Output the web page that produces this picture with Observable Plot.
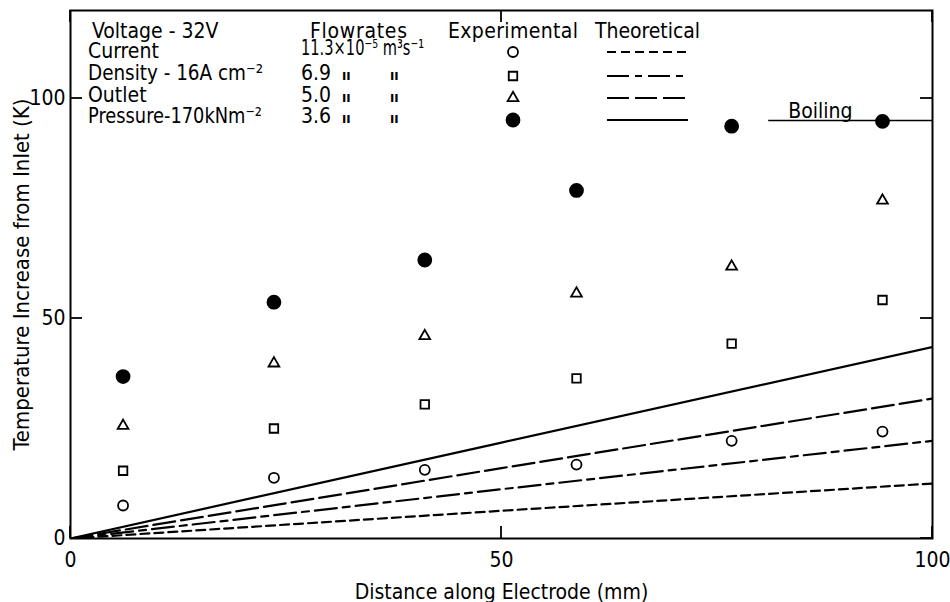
<!DOCTYPE html>
<html><head><meta charset="utf-8">
<script src="https://cdn.jsdelivr.net/npm/d3@7"></script>
<script src="https://cdn.jsdelivr.net/npm/@observablehq/plot@0.6"></script>
<style>
html,body{margin:0;padding:0;background:#fff;}
#wrap{position:relative;width:950px;height:602px;}
#wrap svg{font-family:"DejaVu Sans Condensed","DejaVu Sans",sans-serif;font-stretch:condensed;}
#legend{position:absolute;left:0;top:0;pointer-events:none;}
</style></head><body><div id="wrap"></div>
<script>
// ---- data ----
const distance = [6.1, 23.6, 41.1, 58.7, 76.7, 94.2];           // mm
const flowrates = ["11.3", "6.9", "5.0", "3.6"];               // x10^-5 m3/s
const exp113 = [7.5, 13.8, 15.6, 16.8, 22.2, 24.3];            // K
const exp69  = [15.4, 25.0, 30.5, 36.4, 44.3, 54.2];
const exp50  = [25.6, 39.8, 46.0, 55.7, 61.8, 76.8];
const exp36  = [36.8, 53.7, 63.3, 79.1, 93.7, 94.8];
const theoryX   = [0, 50, 100];
const theory113 = [0, 6.3, 12.5];
const theory69  = [0, 11.2, 22.2];
const theory50  = [0, 16.0, 31.8];
const theory36  = [0, 21.8, 43.5];
const boilingT = 95, boilingFrom = 81, boilingLabelX = 87;
const xTicks = [0, 50, 100];
const yTicks = [0, 50, 100];
const xDomain = [0, 100], yDomain = [0, 120];
const conditionLines = ["Voltage - 32V", "Current", "Density - 16A cm\u207B\u00B2", "Outlet", "Pressure-170kNm\u207B\u00B2"];
const flowLabels = ["11.3\u00D710\u207B\u2075 m\u00B3s\u207B\u00B9", "6.9", "5.0", "3.6"];

// ---- layout & styles ----
const W = 950, H = 602, mL = 70, mR = 18, mT = 10, mB = 64, tick = 12;
const expSeries = [exp113, exp69, exp50, exp36];
const theorySeries = [theory113, theory69, theory50, theory36];
const symbols = [d3.symbolCircle, d3.symbolSquare, d3.symbolTriangle, d3.symbolCircle];
const radii = [5, 4.8, 4, 6.5];
const fills = ["white", "white", "white", "black"];
const dashes = ["9,5", "22,6,7,6", "22,6", null];
const font = '"DejaVu Sans Condensed","DejaVu Sans",sans-serif';

const dotMarks = expSeries.map((vals, s) =>
  Plot.dot(distance.map((x, i) => ({x, y: vals[i]})), {
    x: "x", y: "y", symbol: symbols[s], r: radii[s],
    fill: fills[s], stroke: "black", strokeWidth: 1.8
  }));
const lineMarks = theorySeries.map((vals, s) =>
  Plot.line(theoryX.map((x, i) => ({x, y: vals[i]})), {
    x: "x", y: "y", stroke: "black", strokeWidth: 2.2, clip: true,
    strokeDasharray: dashes[s] || undefined
  }));

const chart = Plot.plot({
  width: W, height: H,
  marginLeft: mL, marginRight: mR, marginTop: mT, marginBottom: mB,
  style: {fontSize: "21px", fontFamily: font, background: "white", color: "black"},
  x: {domain: xDomain},
  y: {domain: yDomain},
  marks: [
    ...lineMarks,
    Plot.ruleY([boilingT], {x1: boilingFrom, x2: xDomain[1], stroke: "black", strokeWidth: 1.6}),
    Plot.text(["Boiling"], {x: boilingLabelX, y: boilingT, text: d => d, dy: -3, lineAnchor: "bottom", fontSize: 21}),
    ...dotMarks,
    Plot.frame({stroke: "black", strokeWidth: 2}),
    Plot.axisX({ticks: xTicks, tickSize: 0, tickPadding: 14, fontSize: 21, label: "Distance along Electrode (mm)", labelAnchor: "center", labelOffset: 60, labelArrow: "none"}),
    Plot.axisY({ticks: yTicks, tickSize: 0, tickPadding: 5, fontSize: 21, label: null}),
    Plot.axisY({ticks: [], tickSize: 0, fontSize: 22, label: "Temperature Increase from Inlet (K)", labelAnchor: "center", labelOffset: 57, labelArrow: "none"})
  ]
});
document.getElementById("wrap").appendChild(chart);

// ---- overlay: inward ticks (placed with the chart's own scales) and legend block ----
const sx = chart.scale("x"), sy = chart.scale("y");
const lg = d3.select("#wrap").append("svg").attr("id", "legend")
  .attr("width", W).attr("height", H)
  .attr("font-size", 21).attr("font-family", font).attr("fill", "black");
const y0 = sy.apply(yDomain[0]), y1 = sy.apply(yDomain[1]);
const x0 = sx.apply(xDomain[0]), x1 = sx.apply(xDomain[1]);
xTicks.forEach(v => {
  const px = sx.apply(v);
  lg.append("line").attr("x1", px).attr("x2", px).attr("y1", y0).attr("y2", y0 - tick).attr("stroke", "black").attr("stroke-width", 1.8);
  lg.append("line").attr("x1", px).attr("x2", px).attr("y1", y1).attr("y2", y1 + tick).attr("stroke", "black").attr("stroke-width", 1.8);
});
yTicks.forEach(v => {
  const py = sy.apply(v);
  lg.append("line").attr("y1", py).attr("y2", py).attr("x1", x0).attr("x2", x0 + tick).attr("stroke", "black").attr("stroke-width", 1.8);
  lg.append("line").attr("y1", py).attr("y2", py).attr("x1", x1).attr("x2", x1 - tick).attr("stroke", "black").attr("stroke-width", 1.8);
});

const baseY = [38, 58, 80, 102, 123];
const markY = [52, 76, 98, 120];
conditionLines.forEach((t, i) => {
  const el = lg.append("text").attr("x", i === 0 ? 92 : 88).attr("y", baseY[i]).text(t);
  if (i === 2) el.attr("textLength", 175).attr("lengthAdjust", "spacingAndGlyphs");
  if (i === 4) el.attr("textLength", 174).attr("lengthAdjust", "spacingAndGlyphs");
});
lg.append("text").attr("x", 310).attr("y", 38).attr("textLength", 97).text("Flowrates");
lg.append("text").attr("x", 448).attr("y", 38).attr("textLength", 130).text("Experimental");
lg.append("text").attr("x", 595).attr("y", 38).attr("textLength", 105).text("Theoretical");
flowLabels.forEach((t, i) => {
  const el = lg.append("text").attr("x", 301).attr("y", baseY[i + 1] - (i === 0 ? 3 : 0)).text(t);
  if (i === 0) el.attr("textLength", 123).attr("lengthAdjust", "spacingAndGlyphs");
  if (i > 0) {
    lg.append("text").attr("x", 342).attr("y", baseY[i + 1]).attr("font-size", 14).attr("font-weight", "bold").text("\u0131\u0131");
    lg.append("text").attr("x", 390).attr("y", baseY[i + 1]).attr("font-size", 14).attr("font-weight", "bold").text("\u0131\u0131");
  }
});
flowrates.forEach((f, s) => {
  lg.append("path")
    .attr("transform", `translate(513,${markY[s]})`)
    .attr("d", d3.symbol(symbols[s], Math.PI * radii[s] * radii[s])())
    .attr("fill", fills[s]).attr("stroke", "black").attr("stroke-width", 1.8);
  lg.append("line").attr("x1", 607).attr("x2", 688).attr("y1", markY[s]).attr("y2", markY[s])
    .attr("stroke", "black").attr("stroke-width", 2.2)
    .attr("stroke-dasharray", dashes[s]);
});
</script></body></html>
